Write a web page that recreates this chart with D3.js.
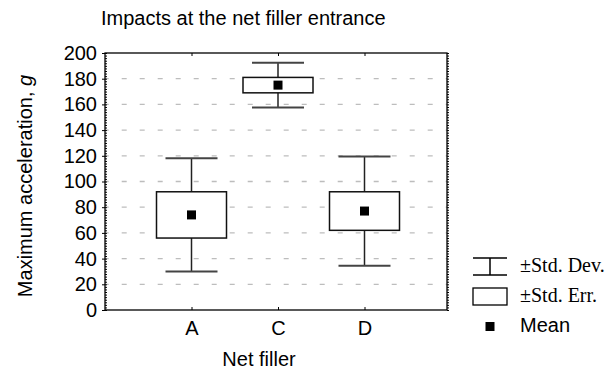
<!DOCTYPE html>
<html>
<head>
<meta charset="utf-8">
<script src="https://cdn.jsdelivr.net/npm/d3@7"></script>
<style>
  body { margin: 0; background: #fff; }
  svg { font-family: "Liberation Sans", Arial, sans-serif; }
</style>
</head>
<body>
<svg width="616" height="371"></svg>
<script>
// values
var categories = ["A", "C", "D"];
var means = [74, 175, 77];
var stdErrs = [18, 6, 15];
var stdDevs = [44, 17.5, 42.5];
var yTicks = [0, 20, 40, 60, 80, 100, 120, 140, 160, 180, 200];
var gridTicks = [20, 40, 60, 80, 100, 120, 140, 160, 180];
var legendLabels = ["\u00b1Std. Dev.", "\u00b1Std. Err.", "Mean"];

var svg = d3.select("svg"),
    margin = {top: 53, left: 105},
    width = 342,
    height = 257;

var x = d3.scalePoint().domain(categories).range([0, 346]).padding(1),
    y = d3.scaleLinear().domain([0, 200]).range([height, 0]);

var g = svg.append("g")
    .attr("transform", "translate(" + margin.left + "," + margin.top + ")");

// dashed grid
g.selectAll(".grid")
    .data(gridTicks)
    .enter()
    .append("line")
    .attr("x1", 0)
    .attr("x2", width)
    .attr("y1", function(d) { return y(d); })
    .attr("y2", function(d) { return y(d); })
    .attr("stroke", "#bdbdbd")
    .attr("stroke-width", 1.3)
    .attr("stroke-dasharray", "5,13")
    .attr("stroke-dashoffset", 1.3);

// left axis with labels, minor ticks inside
var yAxis = g.append("g")
    .call(d3.axisLeft(y).tickValues(yTicks).tickSize(3).tickPadding(5));
yAxis.select(".domain").remove();
yAxis.selectAll("text").attr("font-size", "20px").attr("fill", "#000")
    .attr("font-family", "Liberation Sans, Arial, sans-serif");

var minor = d3.range(0, 201, 2);
g.append("g")
    .call(d3.axisLeft(y).tickValues(minor).tickSize(-2).tickFormat(""))
    .select(".domain").remove();
g.append("g")
    .attr("transform", "translate(" + width + ",0)")
    .call(d3.axisRight(y).tickValues(minor).tickSize(2).tickFormat(""))
    .select(".domain").remove();

// top and bottom ticks at categories
g.append("g")
    .call(d3.axisTop(x).tickSize(-3).tickFormat(""))
    .select(".domain").remove();
var xAxis = g.append("g")
    .attr("transform", "translate(0," + height + ")")
    .call(d3.axisBottom(x).tickSize(-3).tickPadding(11));
xAxis.select(".domain").remove();
xAxis.selectAll("text").attr("font-size", "20px").attr("fill", "#000")
    .attr("font-family", "Liberation Sans, Arial, sans-serif");

// frame
g.append("rect")
    .attr("width", width)
    .attr("height", height)
    .attr("fill", "none")
    .attr("stroke", "#000")
    .attr("stroke-width", 1.3);

// boxes
var boxW = 70, capW = 52, dot = 9;
var box = g.selectAll(".box")
    .data(categories)
    .enter()
    .append("g")
    .attr("class", "box");

box.append("line")
    .attr("x1", function(d) { return x(d); })
    .attr("x2", function(d) { return x(d); })
    .attr("y1", function(d, i) { return y(means[i] + stdDevs[i]); })
    .attr("y2", function(d, i) { return y(means[i] - stdDevs[i]); })
    .attr("stroke", "#222")
    .attr("stroke-width", 1.5);

[1, -1].forEach(function(s) {
  box.append("line")
      .attr("x1", function(d) { return x(d) - capW / 2; })
      .attr("x2", function(d) { return x(d) + capW / 2; })
      .attr("y1", function(d, i) { return y(means[i] + s * stdDevs[i]); })
      .attr("y2", function(d, i) { return y(means[i] + s * stdDevs[i]); })
      .attr("stroke", "#444")
      .attr("stroke-width", 2);
});

box.append("rect")
    .attr("x", function(d) { return x(d) - boxW / 2; })
    .attr("y", function(d, i) { return y(means[i] + stdErrs[i]); })
    .attr("width", boxW)
    .attr("height", function(d, i) { return y(means[i] - stdErrs[i]) - y(means[i] + stdErrs[i]); })
    .attr("fill", "#fff")
    .attr("stroke", "#111")
    .attr("stroke-width", 1.5);

box.append("rect")
    .attr("x", function(d) { return x(d) - dot / 2; })
    .attr("y", function(d, i) { return y(means[i]) - dot / 2; })
    .attr("width", dot)
    .attr("height", dot)
    .attr("fill", "#000");

// titles
svg.append("text")
    .attr("x", 101)
    .attr("y", 25)
    .attr("font-size", "20px")
    .text("Impacts at the net filler entrance");

svg.append("text")
    .attr("x", 259)
    .attr("y", 366)
    .attr("text-anchor", "middle")
    .attr("font-size", "20px")
    .text("Net filler");

var yt = svg.append("text")
    .attr("transform", "translate(32,186) rotate(-90)")
    .attr("text-anchor", "middle")
    .attr("font-size", "20px");
yt.append("tspan").text("Maximum acceleration,  ");
yt.append("tspan").attr("font-style", "italic").text("g");

// legend
var lx = 473, lw = 34, lcx = lx + lw / 2;
var leg = svg.append("g");
leg.append("line").attr("x1", lx).attr("x2", lx + lw).attr("y1", 258).attr("y2", 258)
    .attr("stroke", "#000").attr("stroke-width", 1.5);
leg.append("line").attr("x1", lx).attr("x2", lx + lw).attr("y1", 275).attr("y2", 275)
    .attr("stroke", "#000").attr("stroke-width", 1.5);
leg.append("line").attr("x1", lcx).attr("x2", lcx).attr("y1", 258).attr("y2", 275)
    .attr("stroke", "#000").attr("stroke-width", 1.5);
leg.append("rect").attr("x", lx).attr("y", 288).attr("width", lw).attr("height", 17)
    .attr("fill", "#fff").attr("stroke", "#000").attr("stroke-width", 1.3);
leg.append("rect").attr("x", lcx - 4.5).attr("y", 322).attr("width", 9).attr("height", 9)
    .attr("fill", "#000");

leg.selectAll(".ltext")
    .data(legendLabels)
    .enter()
    .append("text")
    .attr("x", 520)
    .attr("y", function(d, i) { return 272 + i * 30; })
    .attr("font-size", "20px")
    .attr("font-family", function(d, i) {
      return i < 2 ? "Liberation Serif, Times New Roman, serif" : "Liberation Sans, Arial, sans-serif";
    })
    .text(function(d) { return d; });
</script>
</body>
</html>
